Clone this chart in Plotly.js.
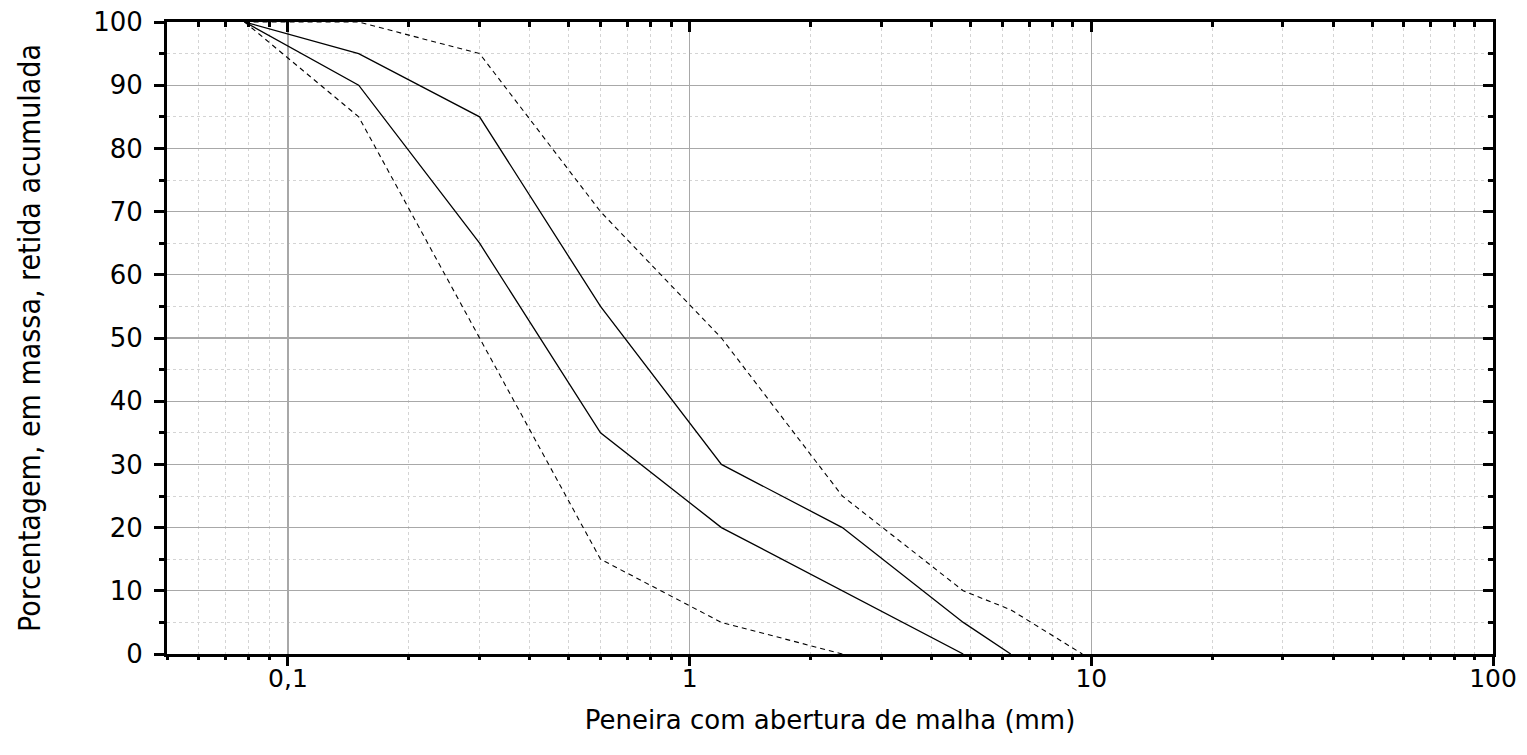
<!DOCTYPE html>
<html>
<head>
<meta charset="utf-8">
<script src="https://cdn.plot.ly/plotly-3.0.1.min.js"></script>
<style>html,body{margin:0;padding:0;background:#fff;}#chart{width:1527px;height:755px;}</style>
</head>
<body>
<div id="chart"></div>
<script>
// Sieve openings (mm)
const sieves = [0.078, 0.15, 0.3, 0.6, 1.2, 2.4, 4.8, 6.3, 9.5];
// Limits of cumulative retained percentage
const lowerUsable  = [100, 85, 50, 15, 5, 0];              // dashed, left
const lowerOptimal = [100, 90, 65, 35, 20, 10, 0];         // solid, left
const upperOptimal = [100, 95, 85, 55, 30, 20, 5, 0];      // solid, right
const upperUsable  = [100, 100, 95, 70, 50, 25, 10, 7, 0]; // dashed, right

const xTickVals = [0.1, 1, 10, 100];
const xTickText = ['0,1', '1', '10', '100'];
const yTickVals = [0, 10, 20, 30, 40, 50, 60, 70, 80, 90, 100];

function tr(vals, dash) {
  return {
    x: sieves.slice(0, vals.length), y: vals, type: 'scatter', mode: 'lines',
    line: {color: '#000', width: dash ? 1.1 : 1.3, dash: dash ? '5px,4px' : 'solid'},
    hoverinfo: 'skip', showlegend: false
  };
}
// invisible helper traces so that the tick-only overlay axes get drawn
function ghost(xa, ya) {
  return {
    x: sieves, y: upperUsable, type: 'scatter', mode: 'lines', xaxis: xa, yaxis: ya,
    line: {color: 'rgba(0,0,0,0)', width: 0}, opacity: 0, hoverinfo: 'skip', showlegend: false
  };
}

const data = [
  tr(lowerUsable, true),
  tr(lowerOptimal, false),
  tr(upperOptimal, false),
  tr(upperUsable, true),
  ghost('x2', 'y2'),
  ghost('x3', 'y')
];

const fontMain = '"DejaVu Sans", sans-serif';
const xRange = [Math.log10(0.05), 2];

const layout = {
  width: 1527, height: 755,
  margin: {l: 167, r: 34, t: 22, b: 101},
  paper_bgcolor: '#fff', plot_bgcolor: '#fff',
  showlegend: false,
  xaxis: {
    type: 'log', range: xRange,
    tickvals: xTickVals, ticktext: xTickText,
    ticks: '',
    showline: true, linewidth: 3, linecolor: '#000', mirror: true,
    showgrid: true, gridcolor: '#a8a8a8', gridwidth: 1.2,
    zeroline: false,
    tickfont: {family: fontMain, size: 25, color: '#000'},
    minor: {dtick: 'D1', ticks: '', showgrid: true, gridcolor: '#d4d4d4', griddash: 'dot', gridwidth: 1},
    title: {text: 'Peneira com abertura de malha (mm)', font: {family: fontMain, size: 26, color: '#000'}, standoff: 19}
  },
  xaxis2: {
    type: 'log', range: xRange, overlaying: 'x', side: 'top', anchor: 'y2',
    tickvals: xTickVals, showticklabels: false,
    ticks: 'inside', ticklen: 10, tickwidth: 3, tickcolor: '#000',
    showline: false, showgrid: false, zeroline: false,
    minor: {dtick: 'D1', ticks: 'inside', ticklen: 5, tickwidth: 3, tickcolor: '#000', showgrid: false}
  },
  xaxis3: {
    type: 'log', range: xRange, overlaying: 'x', side: 'bottom', anchor: 'y',
    tickvals: xTickVals, showticklabels: false,
    ticks: 'outside', ticklen: 11, tickwidth: 3, tickcolor: '#000',
    showline: false, showgrid: false, zeroline: false,
    minor: {dtick: 'D1', ticks: 'outside', ticklen: 5, tickwidth: 3, tickcolor: '#000', showgrid: false}
  },
  yaxis: {
    range: [0, 100], tickvals: yTickVals,
    ticks: 'outside', ticklen: 10, tickwidth: 3, tickcolor: '#000',
    ticklabelstandoff: 6,
    showline: true, linewidth: 3, linecolor: '#000', mirror: true,
    showgrid: true, gridcolor: '#a8a8a8', gridwidth: 1.2,
    zeroline: false,
    tickfont: {family: fontMain, size: 26, color: '#000'},
    minor: {dtick: 5, ticks: 'outside', ticklen: 5, tickwidth: 3, tickcolor: '#000',
            showgrid: true, gridcolor: '#d4d4d4', griddash: 'dot', gridwidth: 1},
    title: {text: 'Porcentagem, em massa, retida acumulada',
            font: {family: '"DejaVu Sans Condensed", "Liberation Sans", sans-serif', size: 30, color: '#000'},
            standoff: 44}
  },
  yaxis2: {
    range: [0, 100], overlaying: 'y', side: 'right', anchor: 'x2',
    tickvals: yTickVals, showticklabels: false,
    ticks: 'inside', ticklen: 10, tickwidth: 3, tickcolor: '#000',
    showline: false, showgrid: false, zeroline: false,
    minor: {dtick: 5, ticks: 'inside', ticklen: 5, tickwidth: 3, tickcolor: '#000', showgrid: false}
  }
};

Plotly.newPlot('chart', data, layout, {staticPlot: true, displayModeBar: false});
</script>
</body>
</html>
